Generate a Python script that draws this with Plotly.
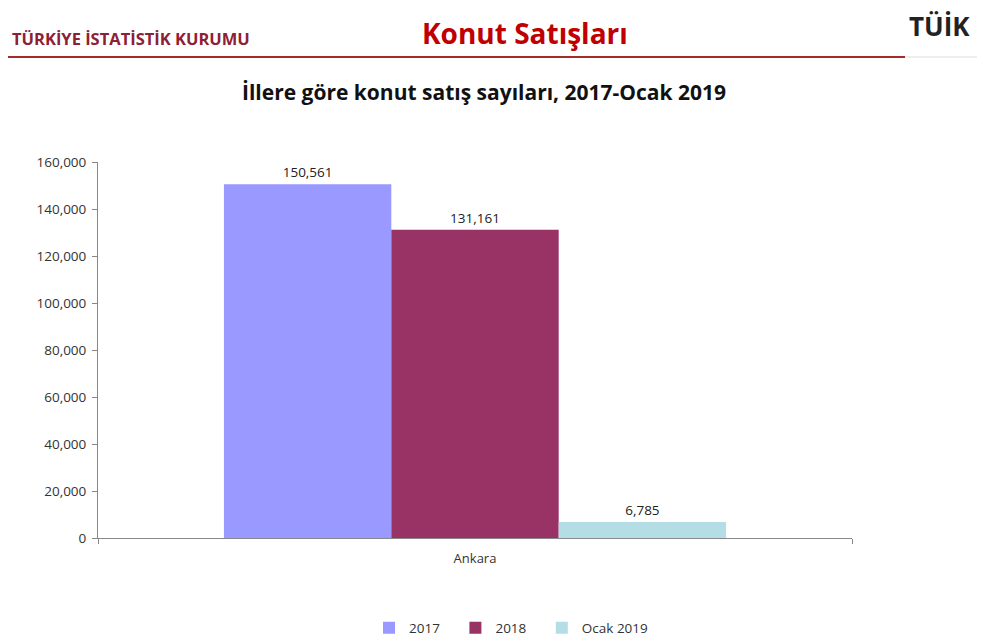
import plotly.graph_objects as go

categories = ["Ankara"]
series_names = ["2017", "2018", "Ocak 2019"]
values_2017 = [150561]
values_2018 = [131161]
values_ocak2019 = [6785]
tick_vals = [0, 20000, 40000, 60000, 80000, 100000, 120000, 140000, 160000]
tick_text = ["0", "20,000", "40,000", "60,000", "80,000", "100,000", "120,000", "140,000", "160,000"]

colors = ["#9999FF", "#993366", "#B4DDE6"]
font_family = "Open Sans, Noto Sans, sans-serif"

OFF = 8  # page body margin
FW, FH = 985 - OFF, 637 - OFF
L, T, W, H = 98 - OFF, 162 - OFF, 754, 376

NB = "\u00a0"
fig = go.Figure()
for i, (name, vals, col) in enumerate(zip(series_names, [values_2017, values_2018, values_ocak2019], colors)):
    fig.add_trace(go.Bar(
        x=categories, y=vals, name=name + (NB * 3 if i < 2 else ""),
        marker=dict(color=col, line=dict(width=0)),
        text=[f"{v:,}" for v in vals], textposition="outside", cliponaxis=False,
        textfont=dict(size=13.5, color="#222", family=font_family),
    ))

fig.update_layout(
    width=FW, height=FH,
    margin=dict(l=L, r=FW - L - W, t=T, b=FH - T - H, autoexpand=False),
    paper_bgcolor="white", plot_bgcolor="white",
    barmode="group", bargap=0.334, bargroupgap=0,
    font=dict(family=font_family, size=13.5, color="#333"),
    showlegend=True,
    legend=dict(orientation="h", xref="container", yref="container",
                x=(369 - OFF) / FW, xanchor="left",
                y=(FH - (628 - OFF)) / FH, yanchor="middle",
                font=dict(size=13.5, color="#333"), traceorder="normal", itemwidth=30),
    xaxis=dict(showline=True, linecolor="#888", linewidth=1, ticks="outside", tickson="boundaries",
               ticklen=5, tickcolor="#888", showgrid=False, automargin=False,
               ticklabelstandoff=8, tickfont=dict(size=13, color="#333")),
    yaxis=dict(range=[0, 160000], tickvals=tick_vals, ticktext=tick_text, showline=True,
               linecolor="#888", linewidth=1, ticks="outside", ticklen=5, tickcolor="#888",
               showgrid=False, zeroline=False, automargin=False, ticklabelstandoff=3,
               tickfont=dict(size=13.5, color="#333")),
)


def add_px_text(text, x, y, size, color, bold=False, anchor="left"):
    fig.add_annotation(
        text=f"<b>{text}</b>" if bold else text,
        xref="paper", yref="paper",
        x=(x - OFF - L) / W, y=(T + H - (y - OFF)) / H,
        xanchor=anchor, yanchor="middle", showarrow=False,
        font=dict(size=size, color=color, family=font_family),
    )

add_px_text("TÜRKİYE İSTATİSTİK KURUMU", 10, 38, 16.5, "#8E2035", bold=True)
add_px_text("Konut Satışları", 525, 33, 28, "#C00000", bold=True, anchor="center")
add_px_text("TÜİK", 940, 26, 26, "#222", bold=True, anchor="center")
add_px_text("İllere göre konut satış sayıları, 2017-Ocak 2019", 484, 92, 21, "#111", bold=True, anchor="center")

yl = (T + H - (57 - OFF)) / H
fig.add_shape(type="line", xref="paper", yref="paper",
              x0=(0 - L) / W, x1=(905 - OFF - L) / W, y0=yl, y1=yl,
              line=dict(color="#A52A2A", width=2))
fig.add_shape(type="line", xref="paper", yref="paper",
              x0=(905 - OFF - L) / W, x1=(FW - L) / W, y0=yl, y1=yl,
              line=dict(color="#DDDDDD", width=1))

fig.write_html("out.html")
